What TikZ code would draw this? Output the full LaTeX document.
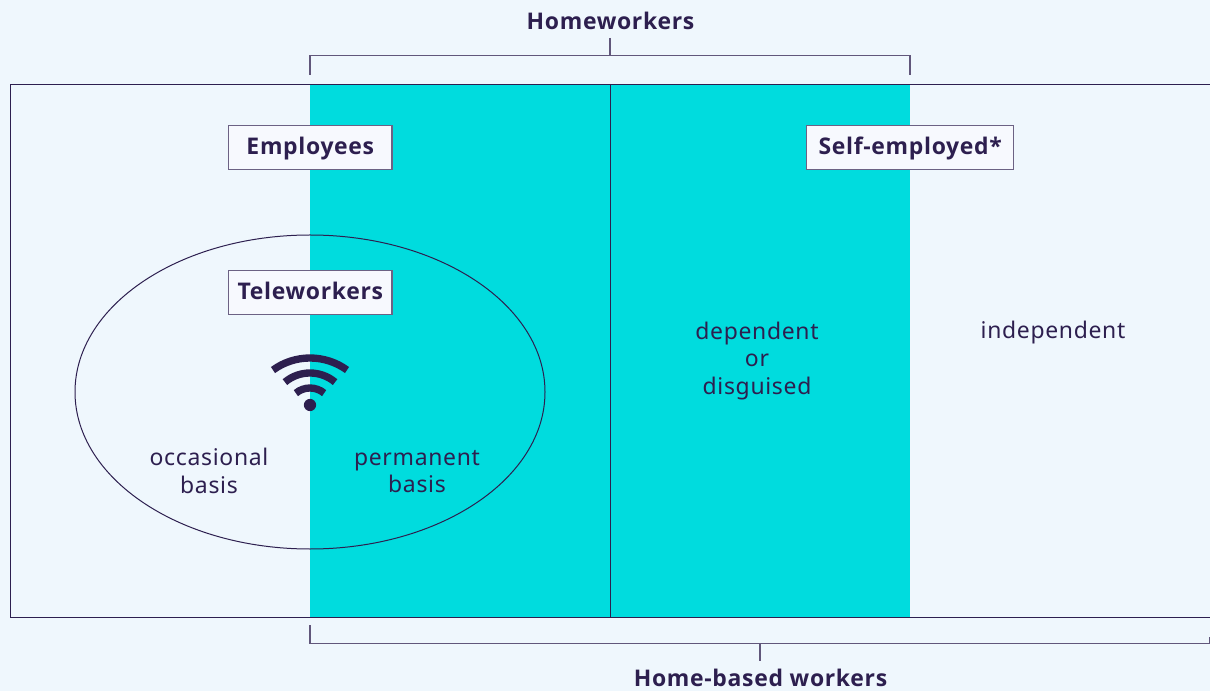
\documentclass[tikz,border=0pt]{standalone}
\usepackage{fontspec}
\setmainfont[LetterSpace=3.0]{Noto Sans}
\newfontfamily\hdfont[LetterSpace=3.0]{Open Sans}
\definecolor{bgc}{HTML}{EFF7FD}
\definecolor{cyanc}{HTML}{00DCDE}
\definecolor{ink}{HTML}{2D1F4F}
\definecolor{boxfill}{HTML}{F7F9FE}
\tikzset{
  px/.style={x=0.75pt,y=-0.75pt},
  line/.style={draw=ink,line width=0.75pt},
  brack/.style={draw=ink!75,line width=0.85pt},
  labelbox/.style={draw=ink!70,line width=0.8pt,fill=boxfill,inner sep=0pt,text=ink,font=\hdfont\fontsize{17.2}{20}\selectfont\bfseries,minimum height=33pt,text height=13.5pt,text depth=2.5pt},
  head/.style={text=ink,inner sep=0pt,font=\hdfont\fontsize{17.2}{20}\selectfont\bfseries},
  body/.style={text=ink,inner sep=0pt,align=center,font=\fontsize{17.2}{20.5}\selectfont},
  wave/.style={draw=ink,line width=5.5pt}
}
\begin{document}
\begin{tikzpicture}[px]
\useasboundingbox (0,0) rectangle (1210,691);
\fill[bgc] (0,0) rectangle (1210,691);
\fill[cyanc] (310,84) rectangle (910,617);
\draw[line] (1210,84.5) -- (10,84.5) -- (10,617.5) -- (1210,617.5);
\draw[line] (610,84) -- (610,617);
\draw[line] (310,392) ellipse [x radius=235,y radius=157];
% brackets
\node[head] (homew) at (610.5,21) {Homeworkers};
\node[head] (homeb) at (760.5,678) {Home-based workers};
\coordinate (tl) at (310,75);
\coordinate (tr) at (910,75);
\coordinate (bl) at (310,625);
\coordinate (br) at (1209.5,637);
\draw[brack] (tl) -- (310,55.5) -- (910,55.5) -- (tr);
\draw[brack] (610,38) -- (610,55.5);
\draw[brack] (bl) -- (310,643.5) -- (1209.5,643.5) -- (br);
\draw[brack] (760,643.5) -- (760,661);
% label boxes
\node[labelbox,minimum width=122.5pt] (emp) at (310.3,147.3) {Employees};
\node[labelbox,minimum width=155.5pt] (self) at (910.2,147.3) {Self-employed*};
\node[labelbox,minimum width=122.5pt] (tele) at (310.3,292.3) {Teleworkers};
% wifi
\draw[wave] (310,421) ++(-126:63) arc[start angle=-126,end angle=-54,radius=63];
\draw[wave] (310,412) ++(-130:39) arc[start angle=-130,end angle=-50,radius=39];
\draw[wave] (310,410) ++(-130:22) arc[start angle=-130,end angle=-50,radius=22];
\fill[ink] (310,405) circle [radius=4.6pt];
% texts
\node[body] (occ) at (209,471) {occasional\\basis};
\node[body] (perm) at (417,471.5) {permanent\\basis};
\node[body] (dep) at (757,361) {dependent\\or\\disguised};
\node[body] (ind) at (1053,333) {independent};
\end{tikzpicture}
\end{document}
